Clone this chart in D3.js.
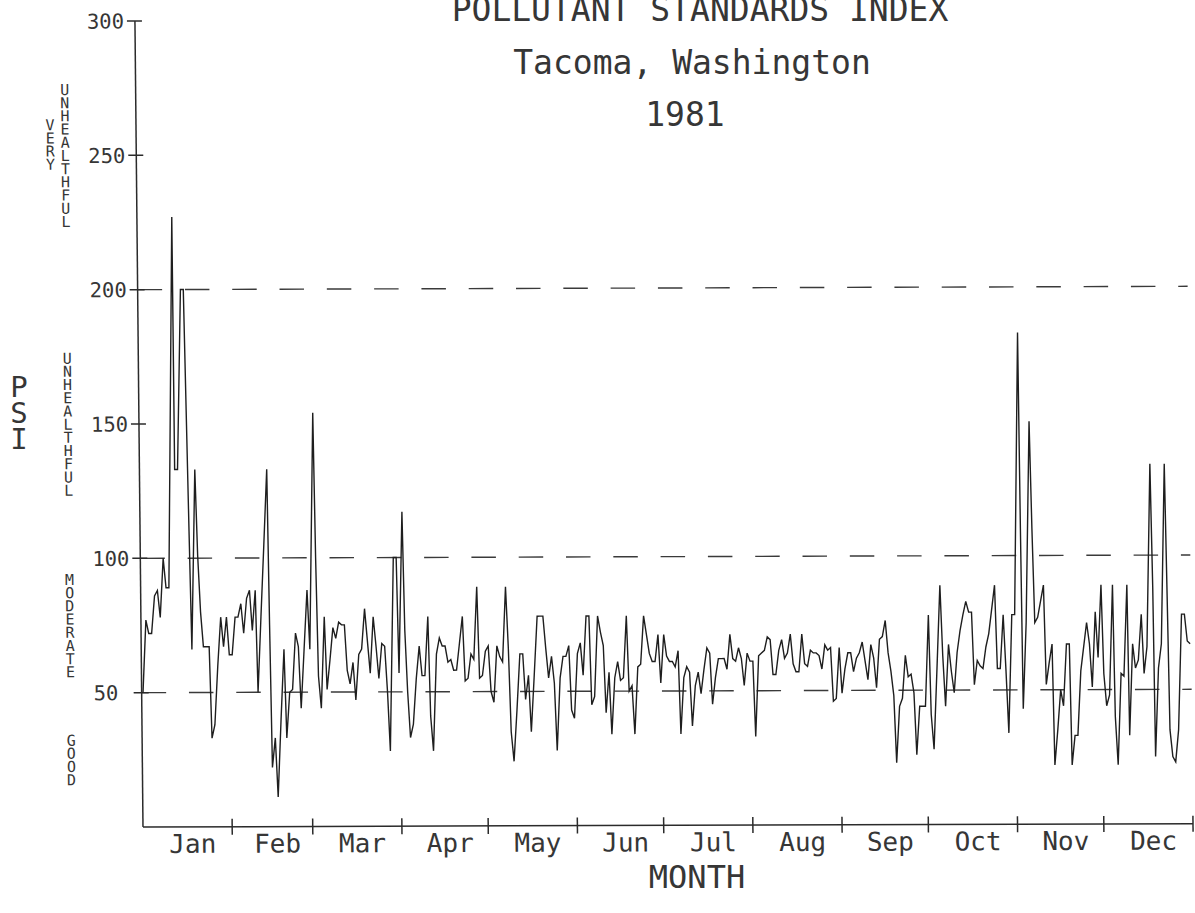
<!DOCTYPE html>
<html>
<head>
<meta charset="utf-8">
<script src="https://cdn.jsdelivr.net/npm/d3@7"></script>
<style>
  body { margin: 0; background: #fff; }
  svg { display: block; }
  text { font-family: "DejaVu Sans Mono", monospace; fill: #363636; }
</style>
</head>
<body>
<svg id="chart"></svg>
<script>
const width = 1195;
const height = 913;

// daily PSI values, one array per month
const jan = [50, 77, 72, 72, 86, 88, 78, 100, 89, 89, 227, 133, 133, 200, 200, 155, 110, 66, 133, 101, 80, 67, 67, 67, 33, 38, 60, 78, 67, 78, 64];
const feb = [64, 78, 78, 83, 72, 85, 88, 73, 88, 50, 78, 105, 133, 75, 22, 33, 11, 40, 66, 33, 50, 51, 72, 67, 44, 66, 88, 66];
const mar = [154, 100, 56, 44, 78, 51, 62, 74, 70, 76, 75, 75, 58, 53, 61, 47, 64, 66, 81, 69, 57, 78, 67, 55, 68, 67, 50, 28, 100, 100, 57];
const apr = [117, 73, 50, 33, 38, 55, 67, 56, 56, 78, 41, 28, 64, 70, 67, 67, 61, 62, 58, 58, 68, 78, 54, 55, 64, 62, 89, 55, 56, 65];
const may = [67, 50, 46, 67, 63, 61, 89, 66, 35, 24, 43, 64, 64, 47, 56, 35, 56, 78, 78, 78, 66, 55, 63, 53, 28, 55, 63, 63, 67, 43, 40];
const jun = [64, 68, 56, 78, 78, 45, 48, 78, 72, 67, 42, 57, 34, 55, 61, 54, 55, 78, 50, 52, 34, 59, 60, 78, 71, 64, 61, 61, 71, 53];
const jul = [71, 63, 61, 61, 59, 65, 34, 55, 59, 57, 37, 52, 57, 49, 58, 66, 64, 45, 55, 62, 62, 62, 58, 71, 62, 61, 66, 62, 52, 64, 61];
const aug = [61, 33, 63, 64, 65, 70, 69, 56, 56, 65, 69, 62, 64, 71, 60, 57, 57, 71, 60, 59, 65, 64, 64, 63, 58, 67, 65, 66, 46, 47, 66];
const sep = [49, 58, 64, 64, 57, 62, 64, 68, 61, 54, 67, 62, 51, 69, 70, 76, 64, 57, 48, 23, 44, 47, 63, 55, 56, 49, 26, 44, 44, 44];
const oct = [78, 41, 28, 58, 89, 63, 44, 67, 57, 49, 64, 72, 78, 83, 79, 79, 52, 61, 59, 58, 66, 71, 80, 89, 58, 58, 78, 57, 34, 78, 78];
const nov = [183, 110, 43, 75, 150, 110, 75, 77, 83, 89, 52, 60, 67, 22, 35, 50, 44, 67, 67, 22, 33, 33, 57, 66, 75, 67, 51, 79, 62, 89];
const dec = [56, 44, 48, 89, 40, 22, 56, 55, 89, 33, 67, 58, 61, 78, 56, 66, 134, 88, 25, 58, 67, 134, 85, 35, 25, 23, 35, 78, 78, 68, 67];

const monthNames = ["Jan", "Feb", "Mar", "Apr", "May", "Jun", "Jul", "Aug", "Sep", "Oct", "Nov", "Dec"];
const monthData = [jan, feb, mar, apr, may, jun, jul, aug, sep, oct, nov, dec];

const yTicks = [50, 100, 150, 200, 250, 300];
const dashLevels = [50, 100, 200];

// air quality bands: words stacked beside the axis
const bandWords = [["GOOD"], ["MODERATE"], ["UNHEALTHFUL"], ["VERY", "UNHEALTHFUL"]];
const bandRanges = [[0, 50], [50, 100], [100, 200], [200, 300]];

const titleLines = ["POLLUTANT STANDARDS INDEX", "Tacoma, Washington", "1981"];

const psi = monthData.flat();
const monthEnds = d3.cumsum(monthData.map(m => m.length));
const monthStarts = [0, ...monthEnds.slice(0, -1)];

const svg = d3.select("#chart")
  .attr("width", width)
  .attr("height", height);

const x = d3.scaleLinear().domain([0, 365]).range([143, 1193]);
const y = d3.scaleLinear().domain([0, 300]).range([827, 21]);

// the scanned original is a little skewed, keep that
const plot = svg.append("g")
  .attr("transform", "matrix(1,-0.0032,0.01,1,-8.27,0.46)");
const series = svg.append("g")
  .attr("transform", "matrix(1,-0.0032,0,1,0,0.46)");

// dashed reference lines
plot.selectAll(".level")
  .data(dashLevels)
  .join("line")
  .attr("x1", x(0))
  .attr("x2", x(365))
  .attr("y1", d => y(d))
  .attr("y2", d => y(d))
  .attr("stroke", "#3a3a3a")
  .attr("stroke-width", 1.4)
  .attr("stroke-dasharray", "24.5 22.8");

// axes
const axisColor = "#2b2b2b";
plot.append("line")
  .attr("x1", x(0)).attr("x2", x(0))
  .attr("y1", y(0)).attr("y2", y(300))
  .attr("stroke", axisColor).attr("stroke-width", 1.5);
plot.append("line")
  .attr("x1", x(0)).attr("x2", x(365))
  .attr("y1", y(0)).attr("y2", y(0))
  .attr("stroke", axisColor).attr("stroke-width", 1.5);

plot.selectAll(".ytick")
  .data(yTicks)
  .join("line")
  .attr("x1", x(0) - 8).attr("x2", x(0) + 7)
  .attr("y1", d => y(d)).attr("y2", d => y(d))
  .attr("stroke", axisColor).attr("stroke-width", 1.5);

plot.selectAll(".ylabel")
  .data(yTicks)
  .join("text")
  .attr("x", 95)
  .attr("y", d => y(d) + 7.5)
  .style("font-size", "20.5px")
  .text(d => d);

plot.selectAll(".xtick")
  .data(monthEnds)
  .join("line")
  .attr("x1", d => x(d)).attr("x2", d => x(d))
  .attr("y1", y(0) - 8).attr("y2", y(0) + 8)
  .attr("stroke", axisColor).attr("stroke-width", 1.5);

plot.selectAll(".xlabel")
  .data(monthNames)
  .join("text")
  .attr("x", (d, i) => (x(monthStarts[i]) + x(monthEnds[i])) / 2 + 5)
  .attr("y", 853)
  .attr("text-anchor", "middle")
  .style("font-size", "26px")
  .text(d => d);

// stacked text: one letter under the other
function stacked(g, word, cx, cy, pitch, size) {
  const letters = word.split("");
  const t = g.append("text")
    .attr("text-anchor", "middle")
    .style("font-size", size + "px");
  t.selectAll("tspan")
    .data(letters)
    .join("tspan")
    .attr("x", cx)
    .attr("y", (d, i) => cy + (i - (letters.length - 1) / 2) * pitch + size * 0.36)
    .text(d => d);
}

bandWords.forEach((words, b) => {
  const mid = y((bandRanges[b][0] + bandRanges[b][1]) / 2);
  words.forEach((w, k) => {
    const last = k === words.length - 1;
    stacked(plot, w, last ? 72 : 57, last ? mid : mid - 11, 13.2, 15);
  });
});

// the series
const line = d3.line()
  .x((d, i) => x(i))
  .y(d => y(d));

series.append("path")
  .datum(psi)
  .attr("d", line)
  .attr("fill", "none")
  .attr("stroke", "#1e1e1e")
  .attr("stroke-width", 1.4)
  .attr("stroke-linejoin", "miter");

// titles and axis names
const titleX = [700, 692, 685];
svg.selectAll(".title")
  .data(titleLines)
  .join("text")
  .attr("x", (d, i) => titleX[i])
  .attr("y", (d, i) => 21 + i * 52.5)
  .attr("text-anchor", "middle")
  .style("font-size", "33px")
  .text(d => d);

svg.append("text")
  .attr("x", 697)
  .attr("y", 888)
  .attr("text-anchor", "middle")
  .style("font-size", "32px")
  .text("MONTH");

stacked(svg, "PSI", 19, 413, 26, 29);
</script>
</body>
</html>
